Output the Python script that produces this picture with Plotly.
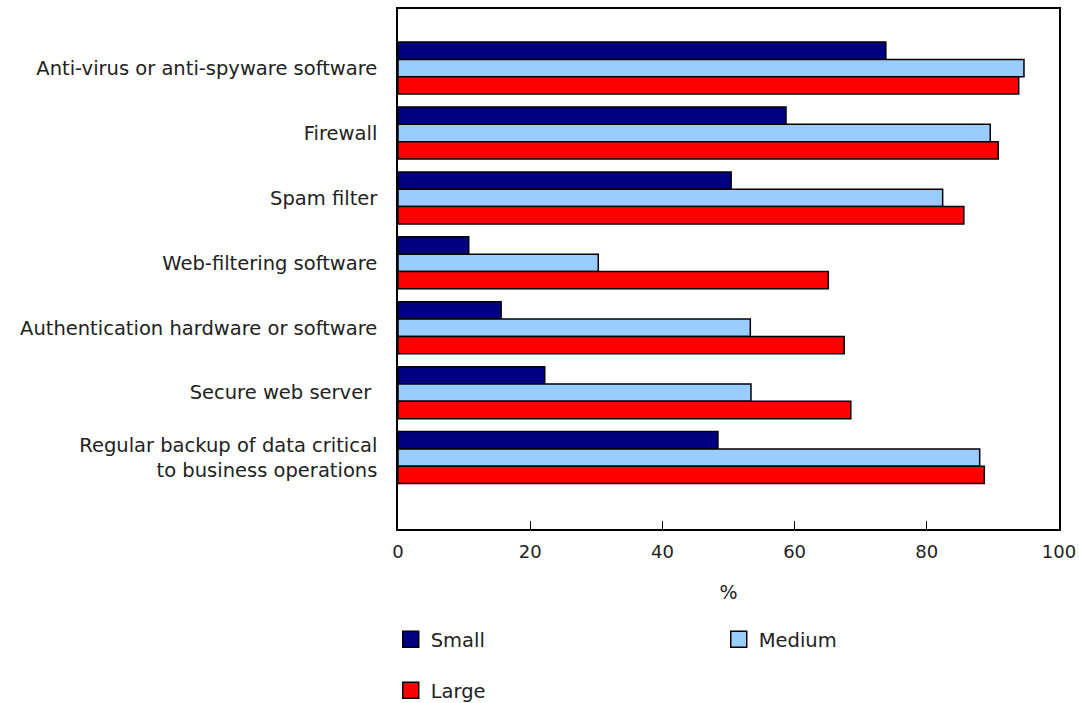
import plotly.graph_objects as go

categories = [
    "Anti-virus or anti-spyware software",
    "Firewall",
    "Spam filter",
    "Web-filtering software",
    "Authentication hardware or software",
    "Secure web server ",
    "Regular backup of data critical<br>to business operations",
]
small = [73.8, 58.7, 50.4, 10.7, 15.6, 22.2, 48.4]
medium = [94.7, 89.6, 82.4, 30.3, 53.3, 53.4, 88.0]
large = [93.9, 90.8, 85.6, 65.1, 67.5, 68.5, 88.7]
x_ticks = [0, 20, 40, 60, 80, 100]

FONT = "DejaVu Sans, Verdana, sans-serif"

fig = go.Figure()
series = [("Small", small, "#000080", "legend"),
          ("Medium", medium, "#99CCFF", "legend"),
          ("Large", large, "#FF0000", "legend2")]
for name, vals, color, lg in series:
    fig.add_trace(go.Bar(
        y=list(range(len(categories))), x=vals, name=name, orientation="h",
        marker=dict(color=color, line=dict(color="#000000", width=1.5)),
        showlegend=False, legendgroup=name,
    ))
# legend entries with larger square swatches
for name, vals, color, lg in series:
    fig.add_trace(go.Scatter(
        x=[None], y=[None], mode="markers", name=name, legend=lg,
        legendgroup=name, hoverinfo="skip",
        marker=dict(symbol="square", size=20, color=color,
                    line=dict(color="#000000", width=1.5)),
    ))

fig.update_layout(
    width=1079, height=703,
    margin=dict(l=398, r=20, t=9, b=174, autoexpand=False),
    plot_bgcolor="white", paper_bgcolor="white",
    barmode="group", bargap=0.2, bargroupgap=0,
    font=dict(family=FONT, size=20, color="#222222"),
    xaxis=dict(range=[0, 100], tickvals=x_ticks, ticks="inside", ticklen=8,
               tickcolor="black", showgrid=False, zeroline=False,
               showline=True, linecolor="black", linewidth=1.5, mirror=True,
               ticklabelstandoff=6,
               title=dict(text="%", standoff=24, font=dict(size=19)),
               tickfont=dict(size=18)),
    yaxis=dict(range=[7.1, -0.91], tickvals=list(range(len(categories))),
               ticktext=categories, showgrid=False, zeroline=False,
               showline=True, linecolor="black", linewidth=1.5, mirror=True,
               ticks="", ticklabelstandoff=15, tickfont=dict(size=19.5)),
    legend=dict(orientation="h", x=-0.011, y=-0.175, xanchor="left", yanchor="top",
                entrywidth=283, entrywidthmode="pixels", font=dict(size=19.5),
                traceorder="normal"),
    legend2=dict(orientation="h", x=-0.011, y=-0.273, xanchor="left", yanchor="top",
                 font=dict(size=19.5)),
    showlegend=True,
)

fig.write_html("out.html")
